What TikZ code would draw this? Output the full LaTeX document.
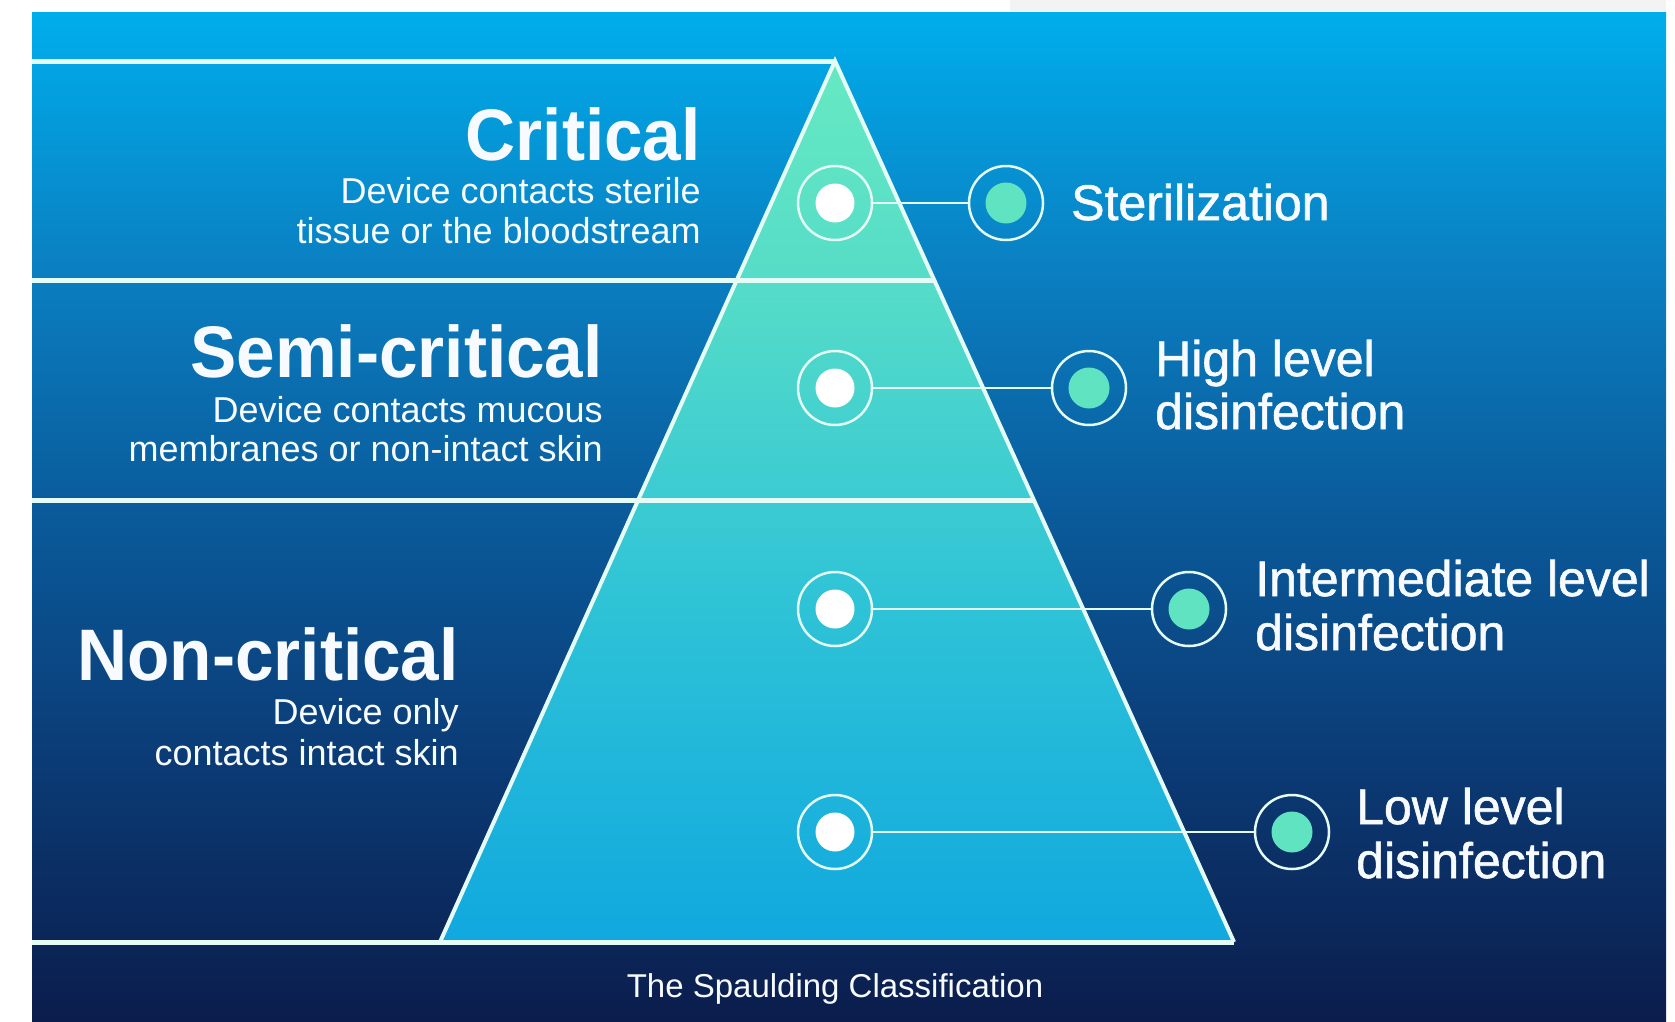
\documentclass[tikz,border=0pt]{standalone}
\usepackage{graphicx}
\usepackage{fontspec}
\setmainfont{Liberation Sans}
\newfontfamily\medfont{Liberation Sans}[FakeBold=1.2]
\definecolor{bg0}{HTML}{00AEEC}
\definecolor{bg1}{HTML}{0A80C2}
\definecolor{bg2}{HTML}{0A5A9A}
\definecolor{bg3}{HTML}{0B3A74}
\definecolor{bg4}{HTML}{0B1D4C}
\definecolor{p0}{HTML}{66E9C2}
\definecolor{p1}{HTML}{55DCC8}
\definecolor{p2}{HTML}{30C4D6}
\definecolor{p3}{HTML}{10A8DF}
\definecolor{linec}{HTML}{E4FBF6}
\definecolor{mint}{HTML}{5FE3C0}
\definecolor{txt}{HTML}{F7FBFF}
\definecolor{strip}{HTML}{F3F3F3}
\pgfdeclareverticalshading{bgshade}{100bp}{color(0bp)=(bg4); color(25bp)=(bg4); color(37.5bp)=(bg3); color(50bp)=(bg2); color(62.5bp)=(bg1); color(75bp)=(bg0); color(100bp)=(bg0)}
\pgfdeclareverticalshading{pyrshade}{100bp}{color(0bp)=(p3); color(25bp)=(p3); color(45bp)=(p2); color(62bp)=(p1); color(75bp)=(p0); color(100bp)=(p0)}
\newcommand{\sqz}[1]{\scalebox{0.95}[1]{#1}}
\tikzset{
  titletext/.style={inner sep=0pt, text=txt, font=\bfseries\fontsize{73}{80}\selectfont},
  desctext/.style={inner sep=0pt, text=txt, font=\fontsize{36}{40}\selectfont},
  labtext/.style={inner sep=0pt, text=txt, font=\medfont\fontsize{50}{56}\selectfont},
  captext/.style={inner sep=0pt, text=txt, font=\fontsize{33}{36}\selectfont},
  lring/.style={circle, draw=linec, line width=2.5pt, minimum size=74pt, inner sep=0pt},
  ldot/.style={circle, fill=white, minimum size=39pt, inner sep=0pt},
  rring/.style={circle, draw=linec, line width=2.5pt, minimum size=74pt, inner sep=0pt},
  rdot/.style={circle, fill=mint, minimum size=41pt, inner sep=0pt},
  connline/.style={draw=linec, line width=2.2pt},
  bandline/.style={draw=linec, line width=5pt},
  pyredge/.style={draw=linec, line width=4pt, line join=miter}
}
\begin{document}
\begin{tikzpicture}[x=1pt, y=-1pt]
\useasboundingbox (0,0) rectangle (1675,1021);
\fill[white] (0,0) rectangle (1675,1021);
\fill[strip] (1010,0) rectangle (1666,12);
\shade[shading=bgshade] (32,12) rectangle (1666,1021);
% pyramid
\shade[shading=pyrshade] (835,61) -- (1234,942) -- (440,942) -- cycle;
\draw[bandline] (32,61) -- (835,61);
\draw[bandline] (32,280) -- (934,280);
\draw[bandline] (32,500) -- (1034,500);
\draw[bandline] (32,942) -- (1234,942);
\draw[pyredge] (440,942) -- (835,61) -- (1234,942);
% left labels
\node[titletext, anchor=base east] (t1) at (701,160) {\sqz{Critical}};
\node[desctext, anchor=base east] (t1a) at (701,203) {Device contacts sterile};
\node[desctext, anchor=base east] (t1b) at (701,243) {tissue or the bloodstream};
\node[titletext, anchor=base east] (t2) at (603,377) {\sqz{Semi-critical}};
\node[desctext, anchor=base east] (t2a) at (603,422) {Device contacts mucous};
\node[desctext, anchor=base east] (t2b) at (603,461) {membranes or non-intact skin};
\node[titletext, anchor=base east] (t3) at (459,680) {\sqz{Non-critical}};
\node[desctext, anchor=base east] (t3a) at (459,724) {Device only};
\node[desctext, anchor=base east] (t3b) at (459,765) {contacts intact skin};
% rings
\node[lring] (l1) at (835,203) {};
\node[ldot] (l1d) at (l1) {};
\node[lring] (l2) at (835,388) {};
\node[ldot] (l2d) at (l2) {};
\node[lring] (l3) at (835,609) {};
\node[ldot] (l3d) at (l3) {};
\node[lring] (l4) at (835,832) {};
\node[ldot] (l4d) at (l4) {};
\node[rring] (r1) at (1006,203) {};
\node[rdot] (r1d) at (r1) {};
\node[rring] (r2) at (1089,388) {};
\node[rdot] (r2d) at (r2) {};
\node[rring] (r3) at (1189,609) {};
\node[rdot] (r3d) at (r3) {};
\node[rring] (r4) at (1292,832) {};
\node[rdot] (r4d) at (r4) {};
\draw[connline] (l1) -- (r1);
\draw[connline] (l2) -- (r2);
\draw[connline] (l3) -- (r3);
\draw[connline] (l4) -- (r4);
% right labels
\node[labtext, anchor=base west] (s1) at (1071,220) {Sterilization};
\node[labtext, anchor=base west] (s2a) at (1155,376) {High level};
\node[labtext, anchor=base west] (s2b) at (1155,429) {disinfection};
\node[labtext, anchor=base west] (s3a) at (1255,596) {Intermediate level};
\node[labtext, anchor=base west] (s3b) at (1255,650) {disinfection};
\node[labtext, anchor=base west] (s4a) at (1356,824) {Low level};
\node[labtext, anchor=base west] (s4b) at (1356,878) {disinfection};
% caption
\node[captext, anchor=base] (c) at (835,997) {The Spaulding Classification};
\end{tikzpicture}
\end{document}
